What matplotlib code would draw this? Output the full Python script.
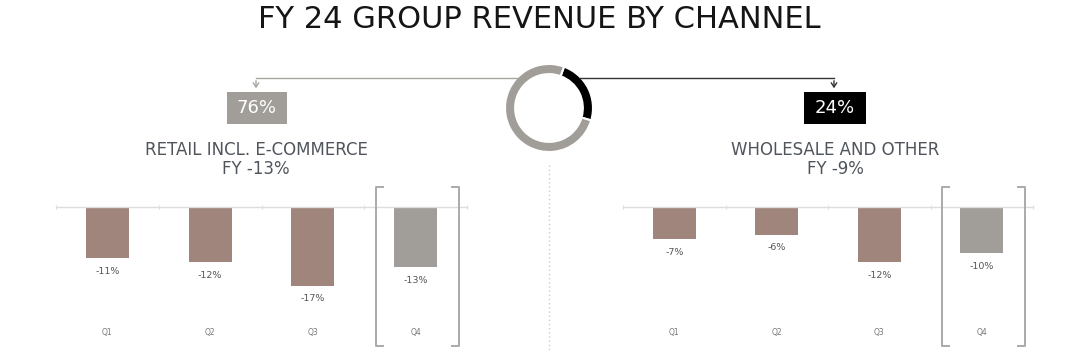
import matplotlib
matplotlib.use("Agg")
import matplotlib.pyplot as plt
from matplotlib.patches import Rectangle, FancyArrowPatch
from matplotlib.lines import Line2D

# ---- data ----
quarters = ["Q1", "Q2", "Q3", "Q4"]
retail_growth = [-11, -12, -17, -13]
wholesale_growth = [-7, -6, -12, -10]
channel_share = [24, 76]           # wholesale, retail
channel_share_labels = ["24%", "76%"]
title = "FY 24 GROUP REVENUE BY CHANNEL"
retail_title = "RETAIL INCL. E-COMMERCE"
retail_fy = "FY -13%"
wholesale_title = "WHOLESALE AND OTHER"
wholesale_fy = "FY -9%"

W, H = 1080, 355
BROWN = "#a0857c"
GREY = "#a19d98"
TXT = "#50555c"

plt.rcParams['font.family'] = ['DejaVu Sans']
fig = plt.figure(figsize=(W / 100, H / 100), dpi=100)
fig.patch.set_facecolor("white")


def fx(x):
    return x / W


def fy(y):
    return 1 - y / H


# ---- title ----
fig.text(fx(539), fy(20), title, ha="center", va="center", fontsize=22,
         color="#151515")


def bar_panel(left_px, right_px, values, colors):
    top_px, bot_px, base_px = 187, 346, 207
    ax = fig.add_axes([fx(left_px), fy(bot_px), (right_px - left_px) / W,
                       (bot_px - top_px) / H])
    scale = 4.62  # px per percent
    ax.set_ylim(-(bot_px - base_px) / scale, (base_px - top_px) / scale)
    ax.set_xlim(-0.5, len(values) - 0.5)
    x = list(range(len(values)))
    ax.bar(x, values, width=0.42, color=colors, zorder=2)
    for xi, v in zip(x, values):
        ax.annotate(f"{v}%", (xi, v), xytext=(0, -9.5), textcoords="offset points",
                    ha="center", va="center", fontsize=6.8, color="#555555")
    for xi, q in zip(x, quarters):
        ax.annotate(q, (xi, ax.get_ylim()[0]), xytext=(0, 9.4),
                    textcoords="offset points", ha="center", va="center",
                    fontsize=5.5, color="#777777")
    for s in ["top", "left", "right"]:
        ax.spines[s].set_visible(False)
    ax.spines["bottom"].set_position(("data", 0))
    ax.spines["bottom"].set_color("#dddddd")
    ax.spines["bottom"].set_linewidth(1.0)
    ax.set_xticks([-0.5, 0.5, 1.5, 2.5, 3.5])
    ax.set_xticklabels([])
    ax.tick_params(axis="x", direction="inout", length=3, color="#dddddd")
    ax.set_yticks([])
    ax.patch.set_alpha(0)
    # bracket around Q4
    yl = ax.get_ylim()
    bl, br, serif = 2.61, 3.42, 0.07
    kw = dict(color="#aaaaaa", lw=1.4, clip_on=False, zorder=3)
    ax.plot([bl + serif, bl, bl, bl + serif], [yl[1], yl[1], yl[0], yl[0]], **kw)
    ax.plot([br - serif, br, br, br - serif], [yl[1], yl[1], yl[0], yl[0]], **kw)
    return ax


bar_panel(56, 467, retail_growth, [BROWN, BROWN, BROWN, GREY])
bar_panel(623, 1033, wholesale_growth, [BROWN, BROWN, BROWN, GREY])

# ---- sub titles ----
for cx, t1, t2 in [(256, retail_title, retail_fy), (835, wholesale_title, wholesale_fy)]:
    fig.text(fx(cx), fy(150), t1, ha="center", va="center", fontsize=12, color=TXT)
    fig.text(fx(cx), fy(169), t2, ha="center", va="center", fontsize=12, color=TXT)

# ---- divider ----
fig.add_artist(Line2D([fx(549), fx(549)], [fy(165), fy(352)], color="#cccccc",
                      lw=1, linestyle=(0, (1, 2))))

# ---- connectors ----
fig.add_artist(Line2D([fx(517), fx(256)], [fy(78), fy(78)], color="#a8a49f", lw=1))
fig.add_artist(Line2D([fx(580), fx(834)], [fy(78), fy(78)], color="#333333", lw=1))
fig.add_artist(FancyArrowPatch(
    (fx(256), fy(78)), (fx(256), fy(91)), transform=fig.transFigure,
    arrowstyle="->,head_length=3,head_width=2", color="#a8a49f", lw=1))
fig.add_artist(FancyArrowPatch(
    (fx(834), fy(78)), (fx(834), fy(91)), transform=fig.transFigure,
    arrowstyle="->,head_length=3,head_width=2", color="#333333", lw=1))

# ---- share boxes ----
fig.add_artist(Rectangle((fx(227), fy(124)), 60 / W, 32 / H, transform=fig.transFigure,
                         facecolor=GREY, edgecolor="none"))
fig.text(fx(257), fy(108), channel_share_labels[1], ha="center", va="center",
         fontsize=13, color="white")
fig.add_artist(Rectangle((fx(804), fy(124)), 62 / W, 32 / H, transform=fig.transFigure,
                         facecolor="black", edgecolor="none"))
fig.text(fx(835), fy(108), channel_share_labels[0], ha="center", va="center",
         fontsize=13, color="white")

# ---- donut ----
dax = fig.add_axes([fx(505), fy(152), 88 / W, 88 / H])
dax.pie(channel_share, colors=["black", GREY], startangle=70, counterclock=False,
        radius=1, wedgeprops=dict(width=0.23, edgecolor="white", linewidth=1.5))
dax.set_xlim(-1, 1)
dax.set_ylim(-1, 1)
dax.set_aspect("equal")
dax.axis("off")

fig.savefig("out.png", dpi=100, facecolor="white")
